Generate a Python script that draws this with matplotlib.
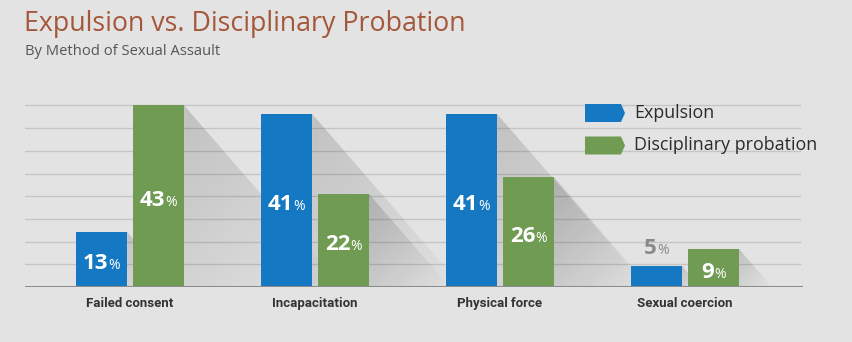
import numpy as np
import matplotlib.pyplot as plt
from matplotlib.patches import Polygon
from matplotlib.offsetbox import TextArea, HPacker, AnnotationBbox

categories = ["Failed consent", "Incapacitation", "Physical force", "Sexual coercion"]
expulsion = [13, 41, 41, 5]
probation = [43, 22, 26, 9]
series_names = ["Expulsion", "Disciplinary probation"]

title = "Expulsion vs. Disciplinary Probation"
subtitle = "By Method of Sexual Assault"

bg = "#e4e3e3"
blue = "#1578c2"
green = "#6f9b53"
W, H = 852, 342
SANS = ["Open Sans", "DejaVu Sans"]
NARROW = ["Liberation Sans Narrow", "Roboto", "DejaVu Sans"]


def px(x, y):
    # pixel position (from top left) -> figure fraction
    return x / W, 1 - y / H


fig = plt.figure(figsize=(W / 100, H / 100), dpi=100, facecolor=bg)
ax = fig.add_axes([25 / W, 55 / H, 778 / W, 190 / H])
ax.set_facecolor(bg)
for s in ax.spines.values():
    s.set_visible(False)

x = np.arange(len(categories))
width = 0.276
offset = 0.154
ax.set_xlim(-0.568, 3.638)
ax.set_ylim(0, 45)

# horizontal guide lines
top = max(expulsion + probation)
for g in np.linspace(0, top, 9)[1:]:
    ax.plot([-0.568, 3.62], [g, g], color="#c6c5c5", lw=1, zorder=1)
ax.axhline(0, color="#8d8c8c", lw=2.2, zorder=6)

# pixels per data unit
sx = 778 / (3.638 + 0.568)
sy = 190 / 45
slope = 1.15


def long_shadow(right, h):
    run = h * sy / slope / sx
    poly = Polygon([(right, h), (right + run, 0), (right, 0)], closed=True,
                   facecolor="none", edgecolor="none")
    ax.add_patch(poly)
    gx = np.linspace(right, right + run, 200)
    gy = np.linspace(0, h, 200)
    X, Y = np.meshgrid(gx, gy)
    dx = (X - right) * sx
    dy = (h - Y) * sy
    u = np.array([1.0, slope]) / np.hypot(1.0, slope)
    proj = dx * u[0] + dy * u[1]
    L = run * sx * u[0] + h * sy * u[1]
    a = 0.15 * np.clip(1 - proj / L, 0, 1) ** 0.9
    img = np.zeros((200, 200, 4))
    img[..., 3] = a
    im = ax.imshow(img, extent=(right, right + run, 0, h), origin="lower",
                   aspect="auto", zorder=1.5, interpolation="bilinear")
    im.set_clip_path(poly)


def value_label(xc, v):
    if v < 8:
        col, y = "#8a8a8a", v + 4
    else:
        col, y = "white", v / 2 - 1
    num = TextArea(str(v), textprops=dict(color=col, fontsize=16, fontweight="bold", family=SANS))
    pct = TextArea("%", textprops=dict(color=col, fontsize=10, family=SANS))
    box = HPacker(children=[num, pct], align="baseline", pad=0, sep=0)
    ab = AnnotationBbox(box, (xc, y), frameon=False, box_alignment=(0.5, 0.5),
                        pad=0, zorder=7)
    ax.add_artist(ab)


for vals, dx, col in [(expulsion, -offset, blue), (probation, offset, green)]:
    ax.bar(x + dx, vals, width=width, color=col, zorder=3)
    for xi, v in zip(x, vals):
        long_shadow(xi + dx + width / 2, v)
        value_label(xi + dx, v)

ax.set_yticks([])
ax.set_xticks(x)
ax.set_xticklabels(categories, family=NARROW, fontweight="bold", fontsize=9.5, color="#333333")
ax.tick_params(axis="x", length=0, pad=7)

# title block
fig.text(*px(24, 31), title, fontsize=19.3, color="#a4573a", family=SANS, va="baseline")
fig.text(*px(25, 55), subtitle, fontsize=10.6, color="#555555", family=SANS, va="baseline")

# legend with arrow-shaped swatches
for (y0, col), name in zip([(104, blue), (136.5, green)], series_names):
    pts = [px(585, y0), px(621, y0), px(625, y0 + 9), px(621, y0 + 18), px(585, y0 + 18)]
    fig.patches.append(Polygon(pts, closed=True, transform=fig.transFigure,
                               facecolor=col, edgecolor="none", zorder=8))
    fig.text(*px(634, y0 + 9), name, fontsize=12.9, color="#2b2b2b", family=SANS,
             va="center", zorder=8)

fig.savefig("out.png", dpi=100, facecolor=bg)
